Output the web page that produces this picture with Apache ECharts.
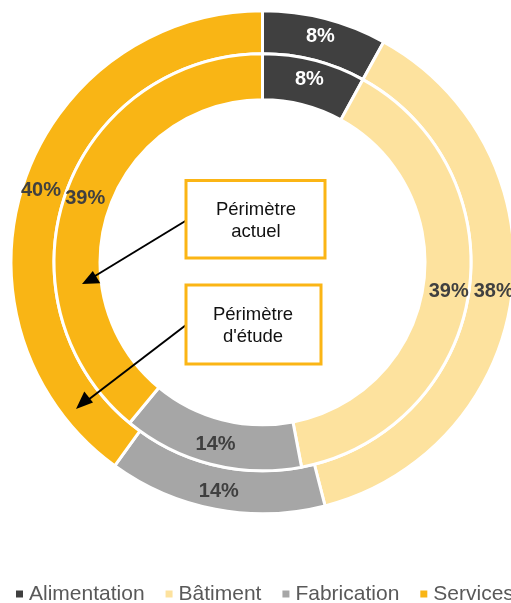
<!DOCTYPE html>
<html><head><meta charset="utf-8">
<script src="https://cdn.jsdelivr.net/npm/echarts@6/dist/echarts.min.js"></script>
<style>html,body{margin:0;padding:0;background:#fff}#c{width:511px;height:603px}</style>
</head><body><div id="c"></div>
<script>
const categories = ['Alimentation', 'Bâtiment', 'Fabrication', 'Services'];
const outerValues = [8, 38, 14, 40];   // Périmètre d'étude
const innerValues = [8, 39, 14, 39];   // Périmètre actuel
const colors = ['#404040', '#FDE29E', '#A6A6A6', '#F9B515'];
const labelColors = ['#ffffff', '#404040', '#404040', '#404040'];

const FONT = 'Liberation Sans, Arial, sans-serif';
function mk(vals) {
  return vals.map((v, i) => ({
    name: categories[i], value: v,
    itemStyle: { color: colors[i] },
    label: { color: labelColors[i] }
  }));
}
const chart = echarts.init(document.getElementById('c'), null, { renderer: 'canvas' });
const baseSeries = {
  type: 'pie', center: [262.5, 262.3], startAngle: 90, clockwise: true,
  avoidLabelOverlap: false, silent: true, animation: false,
  itemStyle: { borderColor: '#ffffff', borderWidth: 3 },
  label: { show: true, position: 'inside', formatter: '{c}%', fontSize: 20, fontWeight: 'bold', fontFamily: FONT },
  labelLine: { show: false }
};
chart.setOption({
  animation: false,
  color: colors,
  legend: {
    data: categories, left: 16, top: 582, width: 900, padding: 0,
    icon: 'rect', itemWidth: 7, itemHeight: 7, itemGap: 21,
    itemStyle: { borderWidth: 0 },
    textStyle: { fontSize: 21, color: '#595959', fontFamily: FONT, padding: [0, 0, 0, 1], lineHeight: 24 }
  },
  series: [
    Object.assign({}, baseSeries, { name: 'Périmètre d\'étude', radius: [208.5, 251.5], data: mk(outerValues) }),
    Object.assign({}, baseSeries, { name: 'Périmètre actuel', radius: [162.5, 208.5], data: mk(innerValues) })
  ],
  graphic: [
    { type: 'line', shape: { x1: 187, y1: 220, x2: 95, y2: 276 }, style: { stroke: '#000', lineWidth: 2 }, z: 100 },
    { type: 'polygon', shape: { points: [[82, 284], [100.3, 283.3], [92.8, 270.9]] }, style: { fill: '#000' }, z: 100 },
    { type: 'line', shape: { x1: 186, y1: 325, x2: 88, y2: 400 }, style: { stroke: '#000', lineWidth: 2 }, z: 100 },
    { type: 'polygon', shape: { points: [[76, 409], [93, 402.6], [84.3, 391.4]] }, style: { fill: '#000' }, z: 100 },
    { type: 'rect', shape: { x: 186, y: 180.5, width: 139, height: 77.5 }, style: { fill: '#fff', stroke: '#FBB515', lineWidth: 3 }, z: 100 },
    { type: 'text', x: 256, y: 221, style: { text: 'Périmètre\nactuel', fill: '#111', font: '18.5px ' + FONT, align: 'center', verticalAlign: 'middle', lineHeight: 22 }, z: 101 },
    { type: 'rect', shape: { x: 186, y: 285, width: 135, height: 79 }, style: { fill: '#fff', stroke: '#FBB515', lineWidth: 3 }, z: 100 },
    { type: 'text', x: 253, y: 326, style: { text: 'Périmètre\nd\'étude', fill: '#111', font: '18.5px ' + FONT, align: 'center', verticalAlign: 'middle', lineHeight: 22 }, z: 101 }
  ]
});
</script></body></html>
